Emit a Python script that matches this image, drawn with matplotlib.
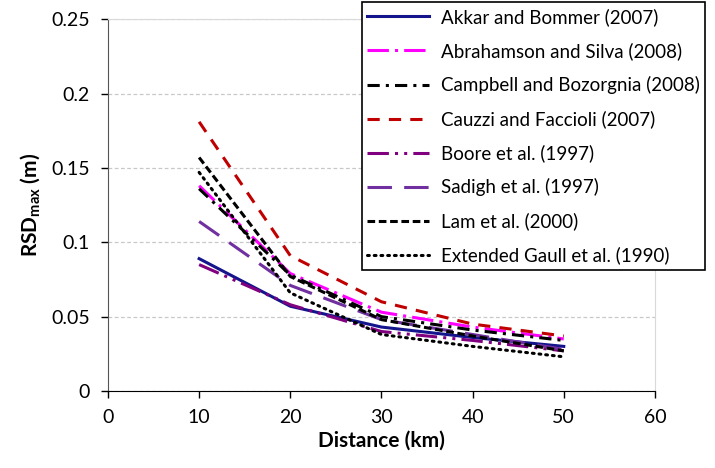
import matplotlib
matplotlib.use("Agg")
import matplotlib.pyplot as plt

plt.rcParams['font.family'] = ['Lato', 'DejaVu Sans']

distance = [10, 20, 30, 40, 50]

akkar = [0.089, 0.057, 0.043, 0.036, 0.030]
abrahamson = [0.138, 0.079, 0.053, 0.043, 0.035]
campbell = [0.136, 0.078, 0.050, 0.041, 0.034]
cauzzi = [0.181, 0.091, 0.060, 0.045, 0.037]
boore = [0.085, 0.058, 0.040, 0.034, 0.027]
sadigh = [0.114, 0.071, 0.048, 0.038, 0.028]
lam = [0.157, 0.077, 0.048, 0.037, 0.027]
gaull = [0.147, 0.066, 0.038, 0.030, 0.023]

labels = [
    "Akkar and Bommer (2007)",
    "Abrahamson and Silva (2008)",
    "Campbell and Bozorgnia (2008)",
    "Cauzzi and Faccioli (2007)",
    "Boore et al. (1997)",
    "Sadigh et al. (1997)",
    "Lam et al. (2000)",
    "Extended Gaull et al. (1990)",
]

x_ticks = [0, 10, 20, 30, 40, 50, 60]
y_ticks = [0, 0.05, 0.1, 0.15, 0.2, 0.25]
y_tick_labels = ["0", "0.05", "0.1", "0.15", "0.2", "0.25"]

fig = plt.figure(figsize=(7.15, 4.68), dpi=100)
ax = fig.add_axes([0.151, 0.1645, 0.765, 0.7945])

styles = [
    dict(color="#14148C", linestyle="-", lw=2.2),
    dict(color="#FF00FF", linestyle=(0, (7, 2, 1, 2)), lw=2.2),
    dict(color="black", linestyle=(0, (4, 2, 1, 2)), lw=2.2),
    dict(color="#C00000", linestyle=(0, (4, 3)), lw=2.2),
    dict(color="#800080", linestyle=(0, (7, 2, 1, 2, 1, 2)), lw=2.2),
    dict(color="#7030A0", linestyle=(0, (8, 4)), lw=2.2),
    dict(color="black", linestyle=(0, (2.5, 1.2)), lw=2.2),
    dict(color="black", linestyle=(0, (0.6, 1.6)), lw=2.2, dash_capstyle="round"),
]
series = [akkar, abrahamson, campbell, cauzzi, boore, sadigh, lam, gaull]
for vals, lab, st in zip(series, labels, styles):
    ax.plot(distance, vals, label=lab, **st)

ax.set_xlim(0, 60)
ax.set_ylim(0, 0.25)
ax.set_xticks(x_ticks)
ax.set_yticks(y_ticks)
ax.set_yticklabels(y_tick_labels)
ax.tick_params(axis="both", labelsize=14, direction="out", length=5, width=1)
ax.tick_params(axis="y", pad=8)
ax.tick_params(axis="x", pad=8)

ax.grid(axis="y", color="#C8C8C8", linestyle=(0, (3, 2)), lw=0.9)
ax.set_axisbelow(True)
ax.spines["top"].set_color("#D9D9D9")
ax.spines["right"].set_color("#D9D9D9")
ax.spines["left"].set_color("#555555")
ax.spines["left"].set_linestyle((0, (2, 1)))
ax.spines["bottom"].set_color("black")

ax.set_ylabel("RSD$_{\\mathregular{max}}$ (m)", fontsize=15, fontweight="bold", labelpad=6)
ax.set_xlabel("Distance (km)", fontsize=15, fontweight="bold", labelpad=3)

leg = fig.legend(loc="lower left", bbox_to_anchor=(0.506, 0.423),
                 fontsize=13.5, frameon=True, fancybox=False, framealpha=1,
                 edgecolor="black", handlelength=3.3, handletextpad=0.6,
                 labelspacing=0.86, borderpad=0.3, borderaxespad=0)
leg.get_frame().set_linewidth(1.2)

fig.savefig("out.png", dpi=100)
